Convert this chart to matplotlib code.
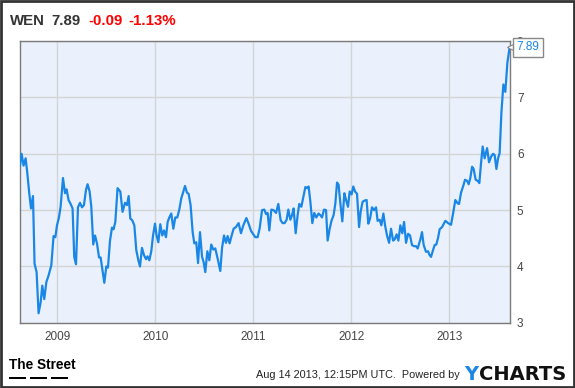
import numpy as np
import matplotlib
matplotlib.use("Agg")
import matplotlib.pyplot as plt
from matplotlib.patches import Rectangle

ticker = "WEN"
last_price = "7.89"
change = "-0.09"
change_pct = "-1.13%"
stamp = "Aug 14 2013, 12:15PM UTC.  Powered by"

# decimal years, weekly-ish closes
years = [
    2008.619, 2008.636, 2008.656, 2008.677, 2008.694, 2008.714, 2008.732, 2008.752, 2008.768, 2008.789,
    2008.809, 2008.830, 2008.847, 2008.867, 2008.888, 2008.911, 2008.939, 2008.962, 2008.980, 2008.997,
    2009.017, 2009.034, 2009.058, 2009.079, 2009.095, 2009.115, 2009.136, 2009.156, 2009.173, 2009.191,
    2009.211, 2009.232, 2009.252, 2009.272, 2009.293, 2009.309, 2009.330, 2009.347, 2009.367, 2009.385,
    2009.405, 2009.426, 2009.442, 2009.462, 2009.480, 2009.500, 2009.517, 2009.538, 2009.558, 2009.574,
    2009.592, 2009.615, 2009.643, 2009.666, 2009.691, 2009.711, 2009.728, 2009.745, 2009.765, 2009.786,
    2009.806, 2009.827, 2009.844, 2009.864, 2009.885, 2009.905, 2009.921, 2009.939, 2009.959, 2009.977,
    2009.997, 2010.013, 2010.031, 2010.051, 2010.071, 2010.089, 2010.109, 2010.126, 2010.143, 2010.163,
    2010.184, 2010.204, 2010.224, 2010.245, 2010.265, 2010.283, 2010.303, 2010.323, 2010.340, 2010.360,
    2010.381, 2010.398, 2010.418, 2010.436, 2010.456, 2010.477, 2010.493, 2010.510, 2010.531, 2010.551,
    2010.571, 2010.592, 2010.612, 2010.636, 2010.663, 2010.681, 2010.701, 2010.721, 2010.738, 2010.758,
    2010.779, 2010.799, 2010.823, 2010.850, 2010.874, 2010.898, 2010.929, 2010.952, 2010.977, 2011.000,
    2011.020, 2011.044, 2011.064, 2011.089, 2011.112, 2011.130, 2011.146, 2011.163, 2011.184, 2011.207,
    2011.232, 2011.255, 2011.279, 2011.299, 2011.319, 2011.340, 2011.357, 2011.378, 2011.395, 2011.411,
    2011.432, 2011.452, 2011.469, 2011.490, 2011.510, 2011.531, 2011.551, 2011.564, 2011.582, 2011.602,
    2011.622, 2011.643, 2011.666, 2011.684, 2011.701, 2011.721, 2011.742, 2011.758, 2011.779, 2011.799,
    2011.819, 2011.837, 2011.854, 2011.870, 2011.888, 2011.908, 2011.929, 2011.946, 2011.966, 2011.983,
    2012.003, 2012.020, 2012.038, 2012.058, 2012.079, 2012.095, 2012.115, 2012.136, 2012.156, 2012.173,
    2012.191, 2012.211, 2012.232, 2012.252, 2012.268, 2012.289, 2012.306, 2012.327, 2012.344, 2012.364,
    2012.385, 2012.405, 2012.426, 2012.442, 2012.462, 2012.480, 2012.500, 2012.520, 2012.538, 2012.558,
    2012.579, 2012.599, 2012.619, 2012.640, 2012.660, 2012.677, 2012.704, 2012.721, 2012.738, 2012.762,
    2012.783, 2012.796, 2012.813, 2012.830, 2012.850, 2012.867, 2012.885, 2012.901, 2012.926, 2012.959,
    2012.987, 2013.017, 2013.038, 2013.061, 2013.085, 2013.099, 2013.119, 2013.140, 2013.160, 2013.181,
    2013.197, 2013.214, 2013.232, 2013.248, 2013.268, 2013.289, 2013.306, 2013.323, 2013.340, 2013.360,
    2013.385, 2013.405, 2013.426, 2013.446, 2013.462, 2013.480, 2013.497, 2013.513, 2013.531, 2013.551,
    2013.571, 2013.592, 2013.615,
]
prices = [
    5.79, 6.00, 5.79, 5.92, 5.66, 5.30, 5.03, 5.25, 4.05, 3.90,
    3.17, 3.36, 3.66, 3.42, 3.72, 3.84, 4.02, 4.54, 4.52, 4.73,
    4.87, 5.06, 5.57, 5.30, 5.37, 5.18, 5.11, 5.03, 4.17, 4.04,
    5.05, 5.13, 5.05, 5.09, 5.36, 5.46, 5.33, 5.06, 4.39, 4.55,
    4.41, 4.16, 4.16, 3.93, 3.71, 4.00, 3.98, 4.46, 4.69, 4.66,
    4.79, 5.39, 5.33, 4.97, 5.13, 5.09, 5.25, 4.85, 4.82, 4.73,
    4.29, 4.11, 4.00, 4.33, 4.20, 4.13, 4.18, 4.11, 4.27, 4.55,
    4.76, 4.55, 4.43, 4.75, 4.55, 4.64, 4.52, 4.79, 4.87, 4.94,
    4.67, 4.87, 4.87, 5.01, 5.21, 5.31, 5.43, 5.31, 5.29, 5.09,
    4.61, 4.41, 4.43, 4.06, 4.61, 4.17, 4.08, 3.90, 4.27, 4.11,
    4.39, 4.30, 4.32, 4.14, 3.92, 4.33, 4.55, 4.42, 4.54, 4.41,
    4.55, 4.67, 4.70, 4.77, 4.59, 4.73, 4.86, 4.76, 4.63, 4.57,
    4.52, 4.52, 4.67, 5.00, 5.01, 4.93, 4.95, 4.64, 5.01, 5.00,
    4.95, 5.11, 4.82, 4.77, 4.77, 4.83, 5.01, 4.83, 4.91, 5.03,
    4.59, 4.91, 5.11, 5.06, 5.23, 5.41, 5.39, 5.42, 5.15, 4.77,
    4.95, 4.87, 4.94, 4.91, 4.87, 5.01, 5.00, 4.46, 4.67, 4.82,
    4.91, 5.12, 5.49, 5.45, 5.12, 4.80, 5.30, 5.18, 5.06, 5.33,
    5.28, 5.42, 5.33, 5.29, 4.70, 4.97, 5.15, 5.17, 5.18, 4.76,
    4.85, 5.05, 5.00, 5.05, 4.81, 4.83, 4.73, 4.94, 4.73, 4.55,
    4.42, 4.67, 4.46, 4.48, 4.57, 4.46, 4.73, 4.59, 4.79, 4.42,
    4.58, 4.55, 4.38, 4.36, 4.36, 4.32, 4.48, 4.61, 4.38, 4.26,
    4.27, 4.21, 4.17, 4.27, 4.38, 4.39, 4.51, 4.66, 4.70, 4.81,
    4.77, 4.74, 4.94, 5.18, 5.12, 5.11, 5.31, 5.42, 5.54, 5.52,
    5.46, 5.57, 5.77, 5.73, 5.54, 5.52, 5.48, 5.83, 6.13, 5.92,
    6.10, 5.85, 5.95, 6.00, 5.98, 5.73, 5.92, 6.01, 6.73, 7.23,
    7.10, 7.62, 7.89,
]
year_ticks = [2009, 2010, 2011, 2012, 2013]
price_ticks = [3, 4, 5, 6, 7, 8]

line_blue = "#1a87e6"
plt.rcParams["font.family"] = ["Liberation Sans", "DejaVu Sans"]

fig = plt.figure(figsize=(5.75, 3.88), dpi=100)
ax = fig.add_axes([0.034, 0.168, 0.853, 0.726])
ax.set_facecolor("#eaf1fc")
ax.plot(years, prices, color=line_blue, lw=1.6, zorder=3, solid_joinstyle="round")

ax.set_xlim(2008.615, 2013.619)
ax.set_ylim(3, 8)
ax.set_xticks(year_ticks)
ax.set_xticklabels([str(y) for y in year_ticks])
ax.set_yticks(price_ticks)
ax.yaxis.tick_right()
ax.tick_params(axis="both", length=0, labelsize=8.5, colors="#444444")
ax.tick_params(axis="x", pad=6)
ax.tick_params(axis="y", pad=5)
ax.grid(True, color="#d4d4d4", lw=1)
for s in ax.spines.values():
    s.set_color("#7a7a7a")
    s.set_linewidth(1)

# last value flag, sits over the "8" label like the original
ax.annotate(last_price, xy=(years[-1], prices[-1]), xytext=(5, 0),
            textcoords="offset points", va="center", ha="left",
            fontsize=8.5, color=line_blue, annotation_clip=False, zorder=6,
            bbox=dict(boxstyle="square,pad=0.3", fc="white", ec="#888888", lw=1))
ax.plot([years[-1]], [prices[-1]], marker="<", ms=5, mfc="white", mec="#888888",
        mew=0.8, clip_on=False, zorder=5)

# header
hy = 0.946
fig.text(0.017, hy, ticker, fontsize=10.8, fontweight="bold", color="#333333", va="center")
fig.text(0.090, hy, last_price, fontsize=10.8, fontweight="bold", color="#333333", va="center")
fig.text(0.153, hy, change, fontsize=10.8, fontweight="bold", color="#ff0000", va="center")
fig.text(0.224, hy, change_pct, fontsize=10.8, fontweight="bold", color="#ff0000", va="center")

# footer
fig.text(0.016, 0.060, "The Street", fontsize=9.8, fontweight="bold",
         color="black", va="center", ha="left")
for x0 in (0.016, 0.052, 0.088):
    fig.add_artist(Rectangle((x0, 0.022), 0.030, 0.007, transform=fig.transFigure,
                             fc="black", ec="none"))
fig.text(0.799, 0.033, stamp, fontsize=7.8, color="#222222", va="center", ha="right")
fig.text(0.807, 0.036, "Y", fontsize=14, fontweight="bold", family="DejaVu Sans",
         color="#1a87e6", va="center", ha="left")
fig.text(0.833, 0.036, "CHARTS", fontsize=14, fontweight="bold", family="DejaVu Sans",
         color="#111111", va="center", ha="left")

fig.add_artist(Rectangle((0.001, 0.002), 0.997, 0.995, transform=fig.transFigure,
                         fc="none", ec="#333333", lw=2))

fig.savefig("out.png", dpi=100)
